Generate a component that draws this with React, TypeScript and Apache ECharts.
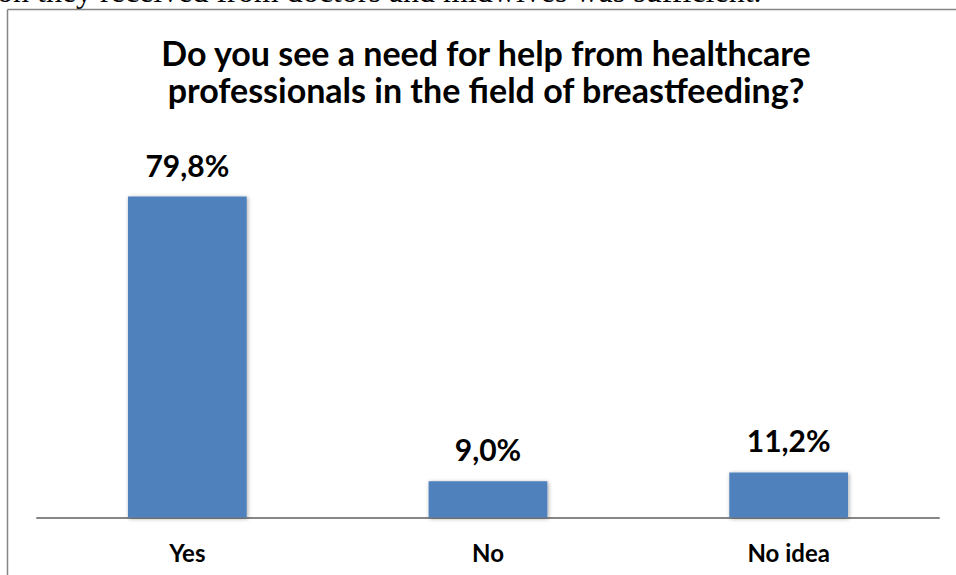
import React, { useEffect, useRef } from "react";
import * as echarts from "echarts";

const categories = ["Yes", "No", "No idea"];
const values = [79.8, 9.0, 11.2];
const valueLabels = ["79,8%", "9,0%", "11,2%"];
const titleLines = [
  "Do you see a need for help from healthcare",
  "professionals in the field of breastfeeding?",
];
const captionText = "on they received from doctors and midwives was sufficient.";

export default function App() {
  const ref = useRef<HTMLDivElement>(null);
  useEffect(() => {
    if (!ref.current) return;
    const chart = echarts.init(ref.current, null, { renderer: "svg" });
    const titleStyle = {
      fontFamily: "Lato",
      fontWeight: "bold",
      fontSize: 34,
      lineHeight: 36,
      color: "#000000",
    };
    chart.setOption({
      animation: false,
      backgroundColor: "#ffffff",
      title: titleLines.map((t, i) => ({
        text: t,
        left: 486,
        textAlign: "center",
        top: 34 + i * 37,
        padding: 0,
        textStyle: titleStyle,
      })),
      graphic: [
        {
          type: "text",
          left: -3,
          top: -25,
          style: {
            text: captionText,
            fontFamily: "Liberation Serif",
            fontSize: 32,
            fill: "#000000",
          },
        },
        {
          type: "line",
          shape: { x1: 7.5, y1: 9.5, x2: 956, y2: 9.5 },
          style: { stroke: "#858585", lineWidth: 1.5 },
        },
        {
          type: "line",
          shape: { x1: 7.5, y1: 9.5, x2: 7.5, y2: 575 },
          style: { stroke: "#858585", lineWidth: 1.5 },
        },
      ],
      grid: { left: 37, right: 17, top: 155.5, bottom: 57.5 },
      xAxis: {
        type: "category",
        data: categories,
        axisLine: { show: true, lineStyle: { color: "#868686", width: 2 } },
        axisTick: { show: false },
        axisLabel: {
          fontFamily: "Lato",
          fontWeight: "bold",
          fontSize: 24,
          color: "#000000",
          margin: 23,
        },
      },
      yAxis: {
        type: "value",
        min: 0,
        max: 90,
        show: false,
        splitLine: { show: false },
      },
      series: [
        {
          type: "bar",
          data: values,
          barWidth: "39.5%",
          itemStyle: {
            color: "#4F81BD",
            shadowBlur: 4,
            shadowColor: "rgba(0,0,0,0.35)",
            shadowOffsetX: 1,
            shadowOffsetY: 1,
          },
          label: {
            show: true,
            position: "top",
            distance: 17,
            formatter: (p: any) => valueLabels[p.dataIndex],
            fontFamily: "Lato",
            fontWeight: "bold",
            fontSize: 30,
            color: "#000000",
          },
        },
      ],
    });
    return () => chart.dispose();
  }, []);
  return (
    <div
      ref={ref}
      style={{ position: "fixed", left: 0, top: 0, width: 956, height: 575 }}
    />
  );
}
